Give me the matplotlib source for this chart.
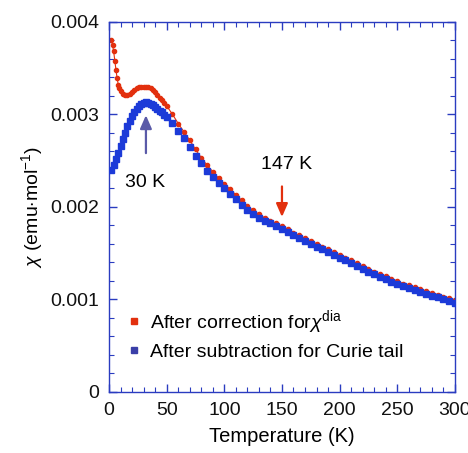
#!/usr/bin/env python3
"""Susceptibility vs temperature: diamagnetic-corrected and Curie-tail-subtracted data."""

import matplotlib
matplotlib.use("Agg")
import matplotlib.pyplot as plt
from matplotlib.ticker import MultipleLocator
from matplotlib.lines import Line2D

plt.rcParams["font.family"] = ["Liberation Sans", "DejaVu Sans"]
plt.rcParams["mathtext.fontset"] = "custom"
plt.rcParams["mathtext.rm"] = "Liberation Sans"
plt.rcParams["mathtext.it"] = "Liberation Sans:italic"

# red: after correction for chi_dia  (chi in 1e-3 emu/mol)
t_red = [2, 3, 4, 5, 6, 7, 8, 9, 10, 12, 14, 16, 18, 20, 22, 24, 26, 28, 30, 32,
         34, 36, 38, 40, 42, 44, 46, 48, 50, 55, 60, 65, 70, 75, 80, 85, 90, 95,
         100, 105, 110, 115, 120, 125, 130, 135, 140, 145, 150, 155, 160, 165,
         170, 175, 180, 185, 190, 195, 200, 205, 210, 215, 220, 225, 230, 235,
         240, 245, 250, 255, 260, 265, 270, 275, 280, 285, 290, 295, 300]
chi_red = [3.80, 3.75, 3.68, 3.58, 3.48, 3.39, 3.32, 3.28, 3.25, 3.22, 3.21, 3.21,
           3.22, 3.24, 3.26, 3.28, 3.29, 3.30, 3.30, 3.30, 3.29, 3.28, 3.26, 3.24,
           3.21, 3.18, 3.15, 3.12, 3.09, 3.00, 2.90, 2.81, 2.72, 2.62, 2.53, 2.45,
           2.38, 2.31, 2.25, 2.19, 2.13, 2.07, 2.01, 1.96, 1.92, 1.88, 1.85, 1.82,
           1.79, 1.76, 1.72, 1.69, 1.66, 1.63, 1.60, 1.57, 1.54, 1.51, 1.48, 1.45,
           1.42, 1.39, 1.36, 1.33, 1.30, 1.27, 1.25, 1.22, 1.20, 1.17, 1.15, 1.13,
           1.11, 1.09, 1.07, 1.05, 1.03, 1.01, 0.99]

# blue: after subtraction for Curie tail
t_blue = [2, 4, 6, 8, 10, 12, 14, 16, 18, 20, 22, 24, 26, 28, 30, 32, 34, 36, 38,
          40, 42, 44, 46, 48, 50, 55, 60, 65, 70, 75, 80, 85, 90, 95, 100, 105,
          110, 115, 120, 125, 130, 135, 140, 145, 150, 155, 160, 165, 170, 175,
          180, 185, 190, 195, 200, 205, 210, 215, 220, 225, 230, 235, 240, 245,
          250, 255, 260, 265, 270, 275, 280, 285, 290, 295, 300]
chi_blue = [2.40, 2.45, 2.52, 2.58, 2.66, 2.73, 2.80, 2.87, 2.93, 2.98, 3.02, 3.06,
            3.09, 3.11, 3.12, 3.13, 3.12, 3.11, 3.10, 3.08, 3.06, 3.04, 3.02, 2.99,
            2.97, 2.91, 2.82, 2.74, 2.65, 2.55, 2.47, 2.39, 2.32, 2.26, 2.20, 2.14,
            2.08, 2.02, 1.97, 1.92, 1.88, 1.85, 1.82, 1.79, 1.76, 1.73, 1.69, 1.66,
            1.63, 1.60, 1.57, 1.54, 1.51, 1.48, 1.45, 1.42, 1.39, 1.36, 1.33, 1.30,
            1.27, 1.24, 1.22, 1.19, 1.17, 1.14, 1.12, 1.10, 1.08, 1.06, 1.04, 1.02,
            1.00, 0.98, 0.96]

RED = "#e2300e"
BLUE = "#1c3ad8"
SPINE = "#2a3cc0"


def main() -> None:
    fig = plt.figure(figsize=(4.68, 4.53), dpi=100)
    ax = fig.add_axes([0.233, 0.135, 0.739, 0.817])

    yr = [v * 1e-3 for v in chi_red]
    yb = [v * 1e-3 for v in chi_blue]
    ax.plot(t_red, yr, "-", color=RED, lw=0.8, marker="o", ms=3.0, mec=RED, zorder=2)
    ax.plot(t_blue, yb, "s", color=BLUE, ms=4.6, mec=BLUE, zorder=3)

    ax.set_xlim(0, 300)
    ax.set_ylim(0, 0.004)
    ax.xaxis.set_major_locator(MultipleLocator(50))
    ax.xaxis.set_minor_locator(MultipleLocator(10))
    ax.yaxis.set_minor_locator(MultipleLocator(0.0002))
    ax.set_yticks([0, 0.001, 0.002, 0.003, 0.004])
    ax.set_yticklabels(["0", "0.001", "0.002", "0.003", "0.004"])

    for s in ax.spines.values():
        s.set_color(SPINE)
        s.set_linewidth(1.0)
    ax.tick_params(which="both", direction="in", top=True, right=True, color=SPINE,
                   labelsize=14, labelcolor="#111111")
    ax.tick_params(which="major", length=6, width=1.0, pad=7)
    ax.tick_params(which="minor", length=3.5, width=0.8)

    ax.set_xlabel("Temperature (K)", fontsize=14.5, labelpad=6)
    ax.set_ylabel(r"$\chi$ (emu$\cdot$mol$^{-1}$)", fontsize=14, labelpad=4)

    # annotations
    ax.annotate("", xy=(32, 0.00302), xytext=(32, 0.00255),
                arrowprops=dict(arrowstyle="-|>,head_length=0.8,head_width=0.35",
                                color="#5a5aa8", lw=1.6))
    ax.text(31, 0.00226, "30 K", ha="center", va="center", fontsize=14)
    ax.annotate("", xy=(150, 0.00186), xytext=(150, 0.00225),
                arrowprops=dict(arrowstyle="-|>,head_length=0.8,head_width=0.35",
                                color=RED, lw=1.6))
    ax.text(154, 0.00246, "147 K", ha="center", va="center", fontsize=14)

    handles = [
        Line2D([], [], ls="none", marker="s", ms=4.5, color=RED),
        Line2D([], [], ls="none", marker="s", ms=4.5, color="#3a3fa8"),
    ]
    labels = [r"After correction for$\chi^{\rm dia}$", "After subtraction for Curie tail"]
    ax.legend(handles, labels, loc="lower left", bbox_to_anchor=(0.0, 0.03),
              frameon=False, fontsize=14, handlelength=0.6, handletextpad=0.5,
              labelspacing=0.4, borderaxespad=0.6)

    fig.savefig("out.png", dpi=100)
    plt.close(fig)


if __name__ == "__main__":
    main()
